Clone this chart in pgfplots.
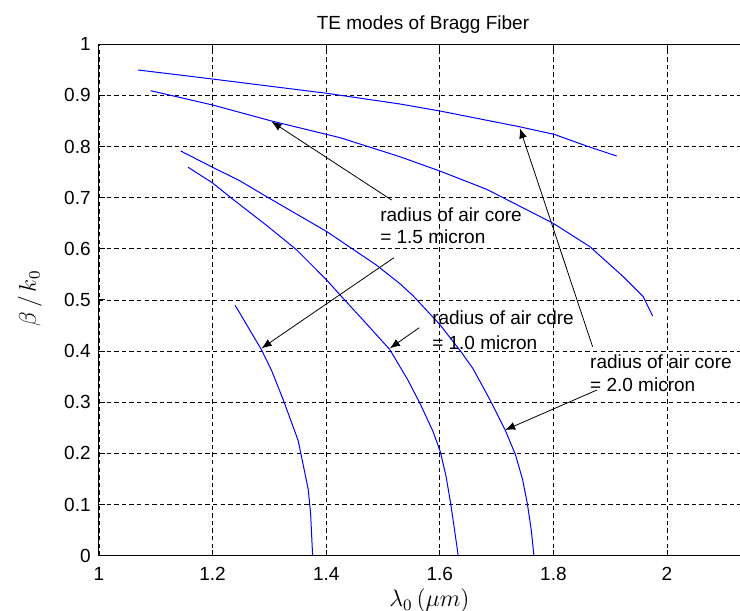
\documentclass[border=0pt]{standalone}
\usepackage{pgfplots}
\pgfplotsset{compat=1.18}
\usepackage{fontspec}
\setmainfont{Liberation Sans}
\usetikzlibrary{arrows.meta}
\definecolor{mblue}{RGB}{0,0,255}
\tikzset{mline/.style={mblue, line width=0.5pt, line join=round, no marks}}
\begin{document}
\begin{tikzpicture}
\useasboundingbox (-49.5pt,-27.65pt) rectangle (320.5pt,277.85pt);
\begin{axis}[
  at={(0pt,0pt)}, anchor=south west,
  scale only axis, width=324pt, height=255.7pt,
  xmin=1, xmax=2.1408, ymin=0, ymax=1,
  xtick={1,1.2,1.4,1.6,1.8,2},
  xticklabels={1,1.2,1.4,1.6,1.8,2},
  ytick={0,0.1,0.2,0.3,0.4,0.5,0.6,0.7,0.8,0.9,1},
  yticklabels={0,0.1,0.2,0.3,0.4,0.5,0.6,0.7,0.8,0.9,1},
  tick pos=both, tick align=inside, major tick length=3pt,
  tick style={black, line width=0.5pt},
  axis line style={black, line width=0.5pt},
  grid=major,
  major grid style={black, line width=0.45pt, dash pattern=on 2.2pt off 1.6pt},
  ticklabel style={font=\fontsize{9.5}{11}\selectfont},
  xticklabel style={anchor=north, inner sep=0pt, yshift=-5.5pt},
  yticklabel style={anchor=east, inner sep=0pt, xshift=-4pt},
  clip=false,
]
% curve A
\addplot[mline] coordinates {
(1.069,0.9497)(1.2,0.9321)(1.4007,0.9042)(1.5296,0.8833)(1.6,0.8696)
(1.7398,0.8389)(1.801,0.824)(1.8585,0.8011)(1.9113,0.7816)};
% curve B
\addplot[mline] coordinates {
(1.0908,0.9093)(1.2,0.8813)(1.3039,0.8500)(1.4241,0.8175)(1.5296,0.7802)
(1.6,0.7522)(1.6824,0.7165)(1.7996,0.65)(1.8643,0.6042)(1.9229,0.5456)
(1.9581,0.5065)(1.9747,0.4687)};
% curve C
\addplot[mline] coordinates {
(1.1437,0.7914)(1.2,0.7595)(1.2481,0.733)(1.2951,0.702)(1.4007,0.634)
(1.4887,0.568)(1.5296,0.532)(1.5532,0.508)(1.6,0.452)(1.6352,0.402)
(1.6583,0.366)(1.6882,0.305)(1.7150,0.246)(1.7330,0.198)(1.7455,0.150)
(1.7540,0.1025)(1.7610,0.05)(1.7657,0)};
% curve D
\addplot[mline] coordinates {
(1.157,0.7595)(1.2,0.7288)(1.2335,0.6989)(1.296,0.645)(1.348,0.598)
(1.40,0.54)(1.43,0.503)(1.468,0.457)(1.512,0.403)(1.543,0.345)
(1.565,0.298)(1.588,0.243)(1.601,0.203)(1.611,0.155)(1.619,0.103)
(1.626,0.05)(1.6324,0)};
% curve E
\addplot[mline] coordinates {
(1.2393,0.4899)(1.2481,0.474)(1.2863,0.4022)(1.3039,0.362)(1.3243,0.305)
(1.3507,0.225)(1.3683,0.13)(1.3725,0.083)(1.3761,0)};
% arrows
\draw[black, line width=0.4pt, -{Latex[length=5pt,width=4pt]}] (axis cs:1.5151,0.6955) -- (axis cs:1.3039,0.8487);
\draw[black, line width=0.4pt, -{Latex[length=5pt,width=4pt]}] (axis cs:1.5192,0.5827) -- (axis cs:1.2863,0.4056);
\draw[black, line width=0.4pt, -{Latex[length=5pt,width=4pt]}] (axis cs:1.5637,0.4458) -- (axis cs:1.5122,0.4056);
\draw[black, line width=0.4pt, -{Latex[length=5pt,width=4pt]}] (axis cs:1.869,0.4087) -- (axis cs:1.741,0.8357);
\draw[black, line width=0.4pt, -{Latex[length=5pt,width=4pt]}] (axis cs:1.8766,0.324) -- (axis cs:1.7150,0.2458);
% annotation text
\begin{scope}[every node/.style={anchor=base west, inner sep=0pt, font=\fontsize{9.5}{11}\selectfont}]
\node at (axis cs:1.4945,0.6541) {radius of air core};
\node at (axis cs:1.4945,0.6105) {= 1.5 micron};
\node at (axis cs:1.586,0.4512) {radius of air cdre};
\node at (axis cs:1.586,0.4032) {= 1.0 micron};
\node at (axis cs:1.864,0.367) {radius of air core};
\node at (axis cs:1.864,0.3201) {= 2.0 micron};
\end{scope}
% title and labels
\node[anchor=base, inner sep=0pt, font=\fontsize{9.5}{11}\selectfont] at ([yshift=7.5pt]rel axis cs:0.5,1) {TE modes of Bragg Fiber};
\node[anchor=base, inner sep=0pt, font=\fontsize{12}{14}\selectfont] at ([yshift=-25.65pt]rel axis cs:0.51,0) {$\lambda_0\,(\mu m)$};
\node[rotate=90, anchor=center, inner sep=0pt, font=\fontsize{12}{14}\selectfont] at ([xshift=-34.5pt]rel axis cs:0,0.503) {$\beta\,/\,k_0$};
\end{axis}
\end{tikzpicture}
\end{document}
